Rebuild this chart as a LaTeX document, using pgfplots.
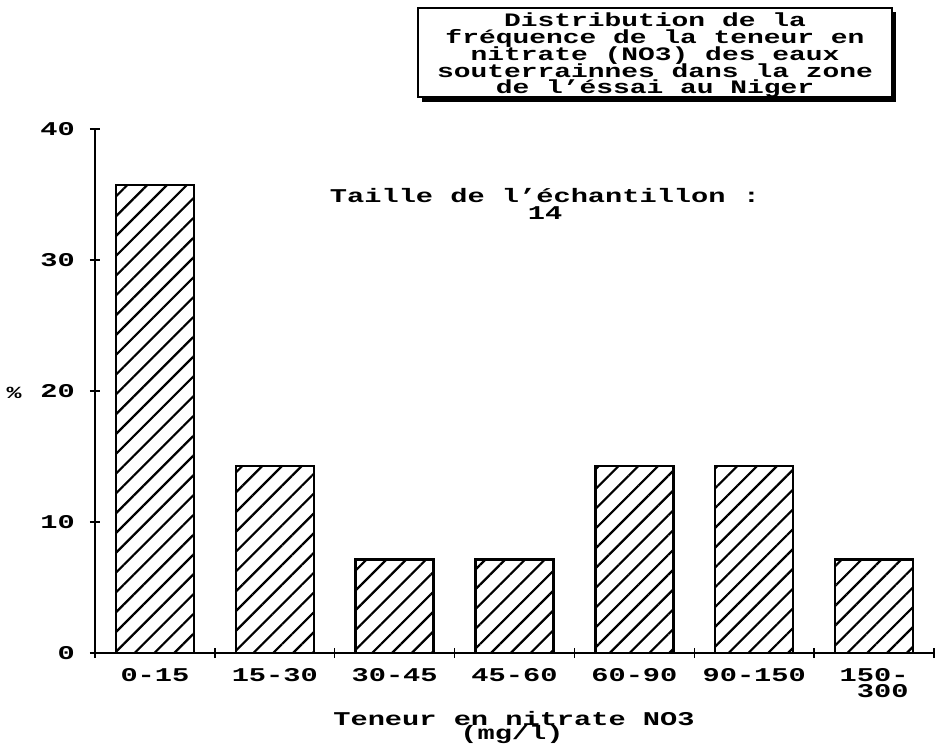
\documentclass[border=0pt]{standalone}
\usepackage{fontspec}
\usepackage{pgfplots}
\pgfplotsset{compat=1.18}
\usetikzlibrary{patterns.meta}
\newfontfamily\pix{Liberation Mono}[FakeStretch=1.47]
\newcommand\pixf[2]{\pix\bfseries\fontsize{#1}{#2}\selectfont}
\begin{document}
\begin{tikzpicture}[x=1pt,y=1pt]
\useasboundingbox (0,0) rectangle (938,748);
\begin{axis}[
  at={(95pt,95pt)}, anchor=south west,
  scale only axis, width=839pt, height=524pt,
  xmin=-0.5, xmax=6.5, ymin=0, ymax=40,
  axis lines=left, axis line style={-, line width=2pt},
  xtick={0,1,2,3,4,5,6},
  xticklabels={0-15,15-30,30-45,45-60,60-90,90-150,{150-\\300}},
  minor xtick={-0.5,0.5,1.5,2.5,3.5,4.5,5.5,6.5},
  ytick={0,10,20,30,40},
  tick align=center, major tick length=10pt, minor tick length=10pt,
  tick style={line width=1.5pt, black},
  major x tick style={draw=none},
  /pgf/number format/assume math mode=true,
  ticklabel style={font=\pixf{19.5}{16}},
  xticklabel style={align=right, inner sep=0pt, anchor=north, yshift=-10pt},
  yticklabel style={inner sep=0pt, anchor=east, xshift=-15pt},
  clip=false,
]
\addplot[ybar, bar width=78pt, draw=black, line width=2.5pt,
  pattern={Lines[angle=45,distance=14pt,line width=2.2pt]}]
  coordinates {(0,35.71)(1,14.29)(2,7.14)(3,7.14)(4,14.29)(5,14.29)(6,7.14)};
\end{axis}
% y label
\node[font=\pixf{17}{15}] at (14,355) {\%};
% x label
\node[font=\pixf{19.5}{16}, anchor=base] at (514,23) {Teneur en nitrate NO3};
\node[font=\pixf{19.5}{16}, anchor=base] at (512,9) {(mg/l)};
% sample size
\node[font=\pixf{19.5}{16}, anchor=base] at (545,545) {Taille de l’échantillon :};
\node[font=\pixf{19.5}{16}, anchor=base] at (545,528) {14};
% title box
\draw[line width=2pt] (418,740) rectangle (892,651);
\fill (891,736) rectangle (896,646);
\fill (422,652) rectangle (896,646);
\node[font=\pixf{19}{17}, anchor=base] at (655,721) {Distribution de la};
\node[font=\pixf{19}{17}, anchor=base] at (655,704.2) {fréquence de la teneur en};
\node[font=\pixf{19}{17}, anchor=base] at (655,687.5) {nitrate (NO3) des eaux};
\node[font=\pixf{19}{17}, anchor=base] at (655,670.7) {souterrainnes dans la zone};
\node[font=\pixf{19}{17}, anchor=base] at (655,654.5) {de l’éssai au Niger};
\end{tikzpicture}
\end{document}
